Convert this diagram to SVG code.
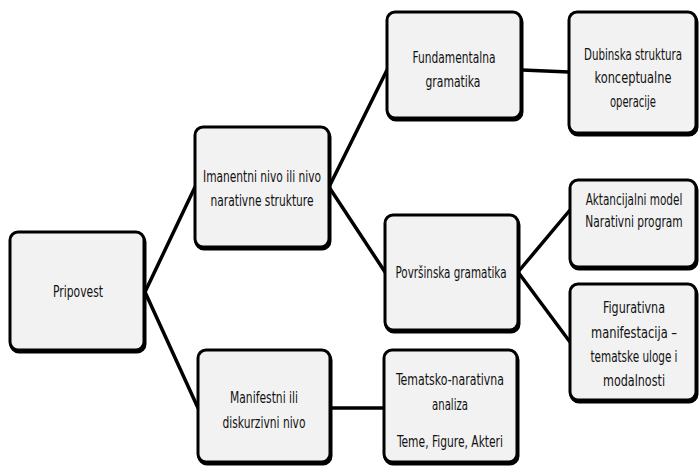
<svg xmlns="http://www.w3.org/2000/svg" width="699" height="467" viewBox="0 0 699 467">
<defs>
<style>
.box{fill:#f2f2f2;stroke:#000;stroke-width:3}
.sh{fill:#000;stroke:#000;stroke-width:3}
.t{font-family:"DejaVu Sans Condensed","Liberation Sans",sans-serif;font-size:15px;fill:#111;text-anchor:middle}
.c{stroke:#000;stroke-width:3.5;fill:none;stroke-linecap:round}
</style>
</defs>
<rect width="699" height="467" fill="#fff"/>
<g id="connectors">
<line class="c" x1="145" y1="292" x2="195" y2="187"/>
<line class="c" x1="145" y1="292" x2="198" y2="408"/>
<line class="c" x1="329" y1="187" x2="387" y2="70"/>
<line class="c" x1="329" y1="187" x2="385" y2="272"/>
<line class="c" x1="522" y1="70" x2="569" y2="72"/>
<line class="c" x1="518" y1="272" x2="570" y2="210"/>
<line class="c" x1="518" y1="272" x2="570" y2="342"/>
<line class="c" x1="330" y1="408" x2="384" y2="408"/>
</g>
<g id="pripovest">
<rect class="sh" x="11" y="234" width="134" height="118" rx="8"/>
<rect class="box" x="10" y="232" width="134" height="118" rx="8"/>
<text class="t" x="78" y="297" textLength="50" lengthAdjust="spacingAndGlyphs" style="font-size:16px">Pripovest</text>
</g>
<g id="imanentni">
<rect class="sh" x="196" y="129" width="134" height="120" rx="8"/>
<rect class="box" x="195" y="127" width="134" height="120" rx="8"/>
<text class="t" x="262" y="182" textLength="118" lengthAdjust="spacingAndGlyphs">Imanentni nivo ili nivo</text>
<text class="t" x="262" y="206" textLength="103" lengthAdjust="spacingAndGlyphs">narativne strukture</text>
</g>
<g id="fundamentalna">
<rect class="sh" x="388" y="14" width="134" height="106" rx="8"/>
<rect class="box" x="387" y="12" width="134" height="106" rx="8"/>
<text class="t" x="454" y="63" textLength="83" lengthAdjust="spacingAndGlyphs">Fundamentalna</text>
<text class="t" x="453" y="87" textLength="55" lengthAdjust="spacingAndGlyphs">gramatika</text>
</g>
<g id="dubinska">
<rect class="sh" x="570" y="14" width="127" height="121" rx="8"/>
<rect class="box" x="569" y="12" width="127" height="121" rx="8"/>
<text class="t" transform="translate(633,0) scale(0.76,1)" x="0" y="60" textLength="129" lengthAdjust="spacingAndGlyphs">Dubinska struktura</text>
<text class="t" x="633" y="83" textLength="77" lengthAdjust="spacingAndGlyphs">konceptualne</text>
<text class="t" x="633" y="107" textLength="46" lengthAdjust="spacingAndGlyphs">operacije</text>
</g>
<g id="povrsinska">
<rect class="sh" x="386" y="217" width="133" height="115" rx="8"/>
<rect class="box" x="385" y="215" width="133" height="115" rx="8"/>
<text class="t" x="451" y="278" textLength="111" lengthAdjust="spacingAndGlyphs">Površinska gramatika</text>
</g>
<g id="aktancijalni">
<rect class="sh" x="571" y="182" width="126" height="87" rx="8"/>
<rect class="box" x="570" y="180" width="126" height="87" rx="8"/>
<text class="t" transform="translate(634,0) scale(0.78,1)" x="0" y="205" textLength="124" lengthAdjust="spacingAndGlyphs">Aktancijalni model</text>
<text class="t" transform="translate(634,0) scale(0.785,1)" x="0" y="227" textLength="124" lengthAdjust="spacingAndGlyphs">Narativni program</text>
</g>
<g id="figurativna">
<rect class="sh" x="571" y="286" width="126" height="116" rx="8"/>
<rect class="box" x="570" y="284" width="126" height="116" rx="8"/>
<text class="t" x="634" y="313" textLength="62" lengthAdjust="spacingAndGlyphs">Figurativna</text>
<text class="t" transform="translate(634,0) scale(0.86,1)" x="0" y="338" textLength="100" lengthAdjust="spacingAndGlyphs">manifestacija –</text>
<text class="t" transform="translate(634,0) scale(0.77,1)" x="0" y="362" textLength="113" lengthAdjust="spacingAndGlyphs">tematske uloge i</text>
<text class="t" x="634" y="386" textLength="62" lengthAdjust="spacingAndGlyphs">modalnosti</text>
</g>
<g id="manifestni">
<rect class="sh" x="199" y="352" width="132" height="112" rx="8"/>
<rect class="box" x="198" y="350" width="132" height="112" rx="8"/>
<text class="t" x="264" y="403" textLength="68" lengthAdjust="spacingAndGlyphs">Manifestni ili</text>
<text class="t" x="264" y="428" textLength="83" lengthAdjust="spacingAndGlyphs">diskurzivni nivo</text>
</g>
<g id="tematsko">
<rect class="sh" x="385" y="352" width="133" height="112" rx="8"/>
<rect class="box" x="384" y="350" width="133" height="112" rx="8"/>
<text class="t" x="450" y="385" textLength="108" lengthAdjust="spacingAndGlyphs">Tematsko-narativna</text>
<text class="t" x="450" y="410" textLength="36" lengthAdjust="spacingAndGlyphs">analiza</text>
<text class="t" x="450" y="447" textLength="106" lengthAdjust="spacingAndGlyphs">Teme, Figure, Akteri</text>
</g>
</svg>
